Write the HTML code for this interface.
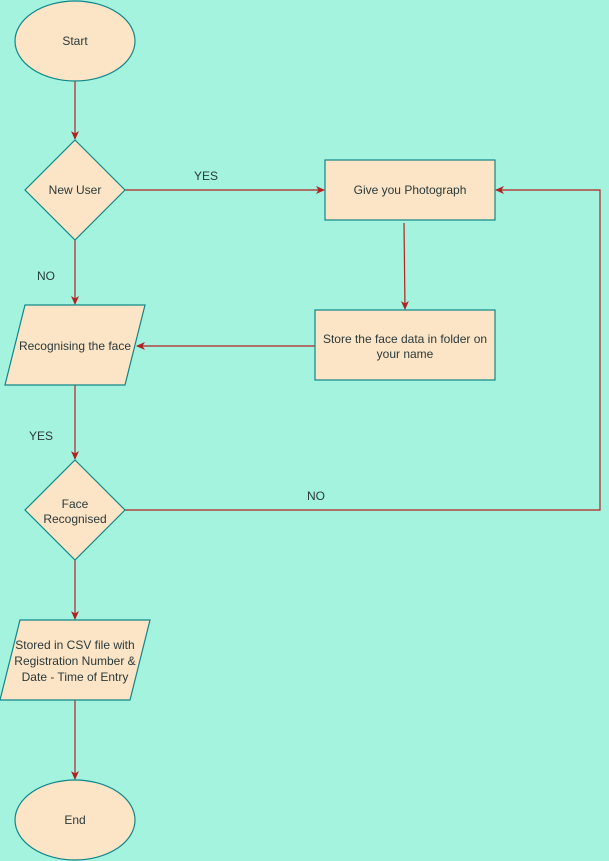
<!DOCTYPE html>
<html><head><style>
html,body{margin:0;padding:0;background:#A4F3DF;}
svg{display:block;}
text{font-family:"Liberation Sans",Arial,sans-serif;font-size:12px;fill:#2a3a3a;}
</style></head><body>
<svg width="609" height="861" viewBox="0 0 609 861" xmlns="http://www.w3.org/2000/svg">
<defs>
<marker id="a" markerWidth="10" markerHeight="10" refX="8" refY="5" orient="auto" markerUnits="userSpaceOnUse">
<path d="M0,1 L9,5 L0,9 L2.5,5 Z" fill="#B22222"/>
</marker>
</defs>
<rect width="609" height="861" fill="#A4F3DF"/>
<g stroke="#B22222" stroke-width="1.2" fill="none">
<path d="M75,81 V139" marker-end="url(#a)"/>
<path d="M125,190 H324" marker-end="url(#a)"/>
<path d="M404,223 L405,309" marker-end="url(#a)"/>
<path d="M315,346 H137" marker-end="url(#a)"/>
<path d="M75,240 V304" marker-end="url(#a)"/>
<path d="M75,385 V459" marker-end="url(#a)"/>
<path d="M125,510 H600 V190 H496" marker-end="url(#a)"/>
<path d="M75,560 V619" marker-end="url(#a)"/>
<path d="M75,700 V779" marker-end="url(#a)"/>
</g>
<g fill="#FCE4C6" stroke="#10868A" stroke-width="1.2">
<ellipse cx="75" cy="41" rx="60" ry="40"/>
<polygon points="75,140 125,190 75,240 25,190"/>
<rect x="325" y="160" width="170" height="60"/>
<rect x="315" y="310" width="180" height="70"/>
<polygon points="25,305 145,305 125,385 5,385"/>
<polygon points="75,460 125,510 75,560 25,510"/>
<polygon points="20,620 150,620 130,700 0,700"/>
<ellipse cx="75" cy="820" rx="60" ry="40"/>
</g>
<g text-anchor="middle">
<text x="75" y="45">Start</text>
<text x="75" y="194">New User</text>
<text x="410" y="194">Give you Photograph</text>
<text x="405" y="343">Store the face data in folder on</text>
<text x="405" y="358">your name</text>
<text x="75" y="350">Recognising the face</text>
<text x="75" y="508">Face</text>
<text x="75" y="523">Recognised</text>
<text x="75" y="649">Stored in CSV file with</text>
<text x="75" y="665">Registration Number &amp;</text>
<text x="75" y="681">Date - Time of Entry</text>
<text x="75" y="824">End</text>
<text x="206" y="180">YES</text>
<text x="46" y="280">NO</text>
<text x="41" y="440">YES</text>
<text x="316" y="500">NO</text>
</g>
</svg>
</body></html>
